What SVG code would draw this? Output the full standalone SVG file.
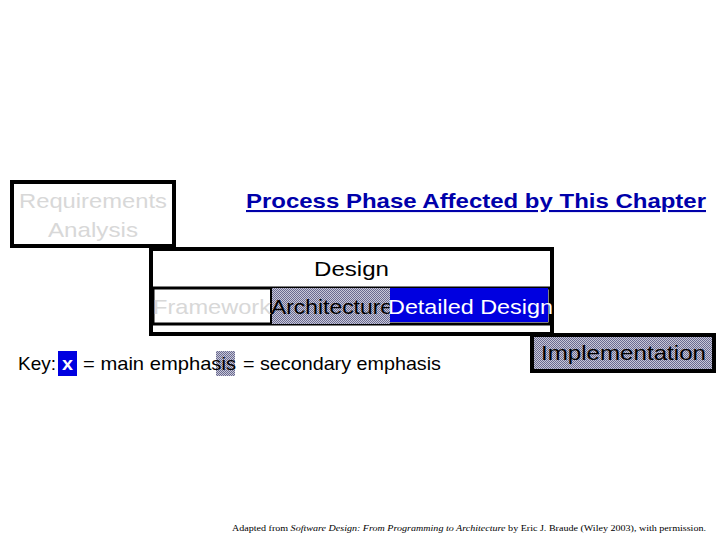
<svg xmlns="http://www.w3.org/2000/svg" width="720" height="540" viewBox="0 0 720 540">
<style>
.s{font-family:"Liberation Sans",Arial,sans-serif}
.box{fill:#fff;stroke:#000;stroke-width:4}
</style>
<defs>
<pattern id="dots" width="2" height="2" patternUnits="userSpaceOnUse">
<rect width="2" height="2" fill="#c8c8d8"/><rect width="1" height="1" fill="#6a6a90"/><rect x="1" y="1" width="1" height="1" fill="#6a6a90"/>
</pattern>
</defs>
<rect width="720" height="540" fill="#fff"/>
<g id="req">
<rect class="box" x="12" y="182" width="162" height="64"/>
<text class="s" x="19" y="208" font-size="21" fill="#d8d8d8" textLength="148" lengthAdjust="spacingAndGlyphs">Requirements</text>
<text class="s" x="48" y="237" font-size="21" fill="#d8d8d8" textLength="90" lengthAdjust="spacingAndGlyphs">Analysis</text>
</g>
<g id="title">
<text class="s" x="246" y="208" font-size="21" font-weight="bold" fill="#00a" text-decoration="underline" textLength="460" lengthAdjust="spacingAndGlyphs">Process Phase Affected by This Chapter</text>
</g>
<g id="design">
<rect class="box" x="151" y="249" width="401" height="85"/>
<text class="s" x="314" y="276" font-size="21" textLength="75" lengthAdjust="spacingAndGlyphs">Design</text>
<rect x="153" y="288" width="397" height="36" fill="#fff" stroke="#000" stroke-width="3"/>
<rect x="271" y="288" width="119" height="36" fill="url(#dots)"/>
<rect x="390" y="288" width="158" height="34" fill="#0000e0"/>
<line x1="271" y1="288" x2="271" y2="324" stroke="#000" stroke-width="2"/>
<text class="s" x="153" y="314" font-size="21" fill="#d8d8d8" textLength="118" lengthAdjust="spacingAndGlyphs">Framework</text>
<text class="s" x="271" y="314" font-size="21" fill="#000" textLength="122" lengthAdjust="spacingAndGlyphs">Architecture</text>
<text class="s" x="388" y="314" font-size="21" fill="#fff" textLength="165" lengthAdjust="spacingAndGlyphs">Detailed Design</text>
</g>
<g id="impl">
<rect x="532" y="335" width="182" height="36" fill="url(#dots)" stroke="#000" stroke-width="4"/>
<text class="s" x="541" y="360" font-size="21" fill="#000" textLength="165" lengthAdjust="spacingAndGlyphs">Implementation</text>
</g>
<g id="key">
<rect x="58" y="351" width="19" height="25" fill="#0000e0"/>
<rect x="216" y="351" width="19" height="25" fill="url(#dots)"/>
<text class="s" x="18" y="370" font-size="19" textLength="38" lengthAdjust="spacingAndGlyphs">Key:</text>
<text class="s" x="62" y="370" font-size="19" fill="#fff" font-weight="bold" textLength="11" lengthAdjust="spacingAndGlyphs">x</text>
<text class="s" x="83" y="370" font-size="19" textLength="153" lengthAdjust="spacingAndGlyphs">= main emphasis</text>
<text class="s" x="243" y="370" font-size="19" textLength="198" lengthAdjust="spacingAndGlyphs">= secondary emphasis</text>
</g>
<g id="credit">
<text x="232" y="531" font-family="Liberation Serif,serif" font-size="9" textLength="474" lengthAdjust="spacingAndGlyphs">Adapted from <tspan font-style="italic">Software Design: From Programming to Architecture</tspan> by Eric J. Braude (Wiley 2003), with permission.</text>
</g>
<g id="connectors"/>
</svg>
